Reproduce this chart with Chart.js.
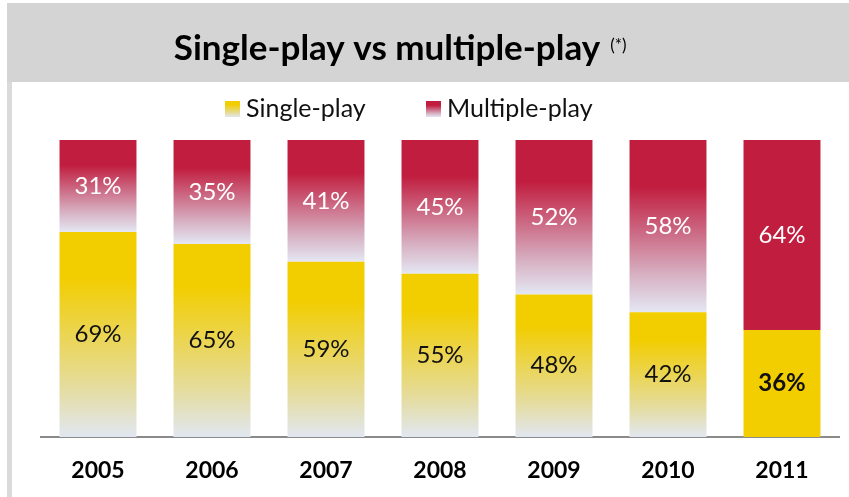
<!DOCTYPE html>
<html>
<head>
<meta charset="utf-8">
<script src="https://cdn.jsdelivr.net/npm/chart.js@4/dist/chart.umd.min.js"></script>
<style>
  html, body { margin: 0; padding: 0; background: #ffffff; }
  #wrap { width: 849px; height: 497px; position: relative; }
</style>
</head>
<body>
<div id="wrap"><canvas id="chart" width="849" height="497"></canvas></div>
<script>
// Share of single-play and multiple-play subscriptions, by year (%)
const categories   = ['2005', '2006', '2007', '2008', '2009', '2010', '2011'];
const singlePlay   = [69, 65, 59, 55, 48, 42, 36];
const multiplePlay = [31, 35, 41, 45, 52, 58, 64];
const seriesNames  = ['Single-play', 'Multiple-play'];
const titleText    = 'Single-play vs multiple-play';
const titleNote    = '(*)';
const highlightYear = '2011';

const FONT = 'Lato, "Open Sans", "DejaVu Sans", sans-serif';
const YELLOW = '#F2CD00';
const CRIMSON = '#C11D3E';

const yellowStops = [[0, YELLOW], [0.22, YELLOW], [0.5, '#EBD552'], [0.75, '#E5DC9C'], [1, '#E1E7F1']];
const crimsonStops = [[0, CRIMSON], [0.27, CRIMSON], [0.52, '#CB6580'], [0.78, '#D7B0C2'], [1, '#E4E7F3']];

// Vertical gradient spanning one stacked segment, computed from the y scale
function segmentFill(ctx, dsIndex, stops, solid) {
  if (ctx.type !== 'data') return solid;
  const i = ctx.dataIndex;
  if (categories[i] === highlightYear) return solid;
  const chart = ctx.chart;
  const y = chart.scales && chart.scales.y;
  if (!y) return solid;
  let below = 0;
  for (let d = 0; d < dsIndex; d++) below += chart.data.datasets[d].data[i];
  const top = y.getPixelForValue(below + chart.data.datasets[dsIndex].data[i]);
  const bottom = y.getPixelForValue(below);
  if (!isFinite(top) || !isFinite(bottom) || top === bottom) return solid;
  const g = chart.ctx.createLinearGradient(0, top, 0, bottom);
  stops.forEach(([o, c]) => g.addColorStop(o, c));
  return g;
}

// Frame, title and legend drawn around the plot
const framePlugin = {
  id: 'frame',
  beforeDraw(chart) {
    const c = chart.ctx;
    c.save();
    c.fillStyle = '#D4D4D4';
    c.fillRect(7, 3, chart.width - 7, 79);
    c.fillStyle = '#DADADA';
    c.fillRect(7, 82, 5, chart.height - 82);

    // title
    c.fillStyle = '#000000';
    c.textBaseline = 'alphabetic';
    c.textAlign = 'left';
    c.font = 'bold 35px ' + FONT;
    const tw = c.measureText(titleText).width;
    const tx = 387 - tw / 2;
    c.fillText(titleText, tx, 60);
    c.font = '17px ' + FONT;
    c.fillText(titleNote, tx + tw + 10, 51);

    // legend
    const items = [
      { name: seriesNames[0], x: 225, stops: yellowStops },
      { name: seriesNames[1], x: 426, stops: crimsonStops }
    ];
    c.font = '25px ' + FONT;
    items.forEach(it => {
      const g = c.createLinearGradient(0, 101, 0, 117);
      it.stops.forEach(([o, col]) => g.addColorStop(o, col));
      c.fillStyle = g;
      c.fillRect(it.x, 101, 15, 16);
      c.fillStyle = '#111111';
      c.fillText(it.name, it.x + 21, 117);
    });
    c.restore();
  }
};

// Percentage labels centred in each segment
const valueLabels = {
  id: 'valueLabels',
  afterDatasetsDraw(chart) {
    const c = chart.ctx;
    c.save();
    c.textAlign = 'center';
    c.textBaseline = 'middle';
    chart.data.datasets.forEach((ds, di) => {
      const meta = chart.getDatasetMeta(di);
      meta.data.forEach((bar, i) => {
        const bold = categories[i] === highlightYear && di === 0;
        c.font = (bold ? 'bold ' : '') + '24px ' + FONT;
        c.fillStyle = di === 0 ? '#111111' : '#FFFFFF';
        c.fillText(ds.data[i] + '%', bar.x, (bar.y + bar.base) / 2);
      });
    });
    c.restore();
  }
};

new Chart(document.getElementById('chart'), {
  type: 'bar',
  data: {
    labels: categories,
    datasets: [
      {
        label: seriesNames[0],
        data: singlePlay,
        backgroundColor: ctx => segmentFill(ctx, 0, yellowStops, YELLOW),
        borderWidth: 0,
        categoryPercentage: 0.675,
        barPercentage: 1
      },
      {
        label: seriesNames[1],
        data: multiplePlay,
        backgroundColor: ctx => segmentFill(ctx, 1, crimsonStops, CRIMSON),
        borderWidth: 0,
        categoryPercentage: 0.675,
        barPercentage: 1
      }
    ]
  },
  options: {
    responsive: false,
    animation: false,
    devicePixelRatio: 1,
    layout: { padding: { left: 41, right: 10, top: 140, bottom: 0 } },
    plugins: {
      legend: { display: false },
      title: { display: false },
      tooltip: { enabled: false }
    },
    scales: {
      x: {
        stacked: true,
        grid: { display: false, drawTicks: false },
        border: { display: true, color: '#8A8A8A', width: 2 },
        ticks: {
          color: '#000000',
          padding: 20,
          font: { family: FONT, size: 23, weight: 'bold' }
        },
        afterFit(scale) { scale.height = 60; }
      },
      y: {
        stacked: true,
        display: false,
        min: 0,
        max: 100
      }
    }
  },
  plugins: [framePlugin, valueLabels]
});
</script>
</body>
</html>
